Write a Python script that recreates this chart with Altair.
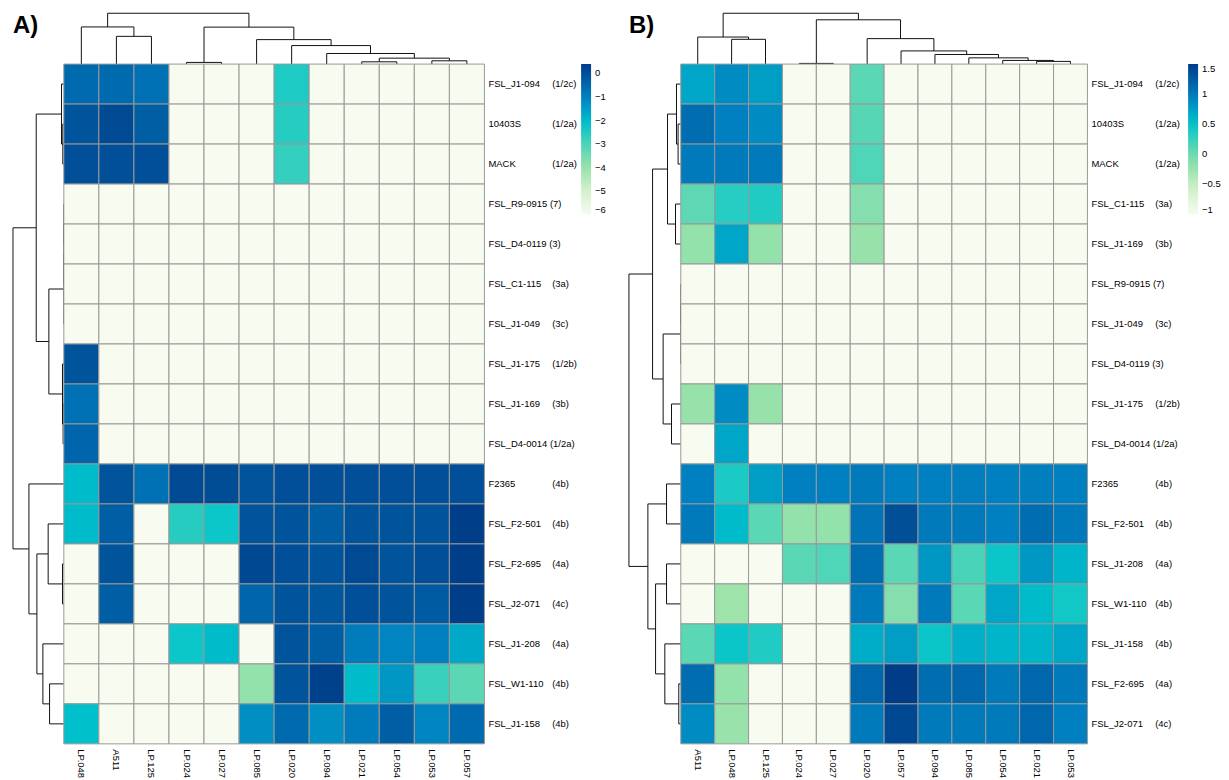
import altair as alt
import pandas as pd

FONT = "Liberation Sans"
LINE = "#111111"
BORDER = "#999999"

# ---------------- Panel A data ----------------
a_rows = ["FSL_J1-094", "10403S", "MACK", "FSL_R9-0915", "FSL_D4-0119", "FSL_C1-115",
          "FSL_J1-049", "FSL_J1-175", "FSL_J1-169", "FSL_D4-0014", "F2365", "FSL_F2-501",
          "FSL_F2-695", "FSL_J2-071", "FSL_J1-208", "FSL_W1-110", "FSL_J1-158"]
a_sero = ["(1/2c)", "(1/2a)", "(1/2a)", "(7)", "(3)", "(3a)", "(3c)", "(1/2b)", "(3b)",
          "(1/2a)", "(4b)", "(4b)", "(4a)", "(4c)", "(4a)", "(4b)", "(4b)"]
a_cols = ["LP.048", "A511", "LP.125", "LP.024", "LP.027", "LP.085", "LP.020", "LP.094",
          "LP.021", "LP.054", "LP.053", "LP.057"]
a_vals = [
    [-0.56, -0.56, -0.7, -6, -6, -6, -2.5, -6, -6, -6, -6, -6],
    [-0.1, 0.1, -0.3, -6, -6, -6, -2.6, -6, -6, -6, -6, -6],
    [0.0, 0.0, 0.0, -6, -6, -6, -2.75, -6, -6, -6, -6, -6],
    [-6, -6, -6, -6, -6, -6, -6, -6, -6, -6, -6, -6],
    [-6, -6, -6, -6, -6, -6, -6, -6, -6, -6, -6, -6],
    [-6, -6, -6, -6, -6, -6, -6, -6, -6, -6, -6, -6],
    [-6, -6, -6, -6, -6, -6, -6, -6, -6, -6, -6, -6],
    [-0.1, -6, -6, -6, -6, -6, -6, -6, -6, -6, -6, -6],
    [-0.7, -6, -6, -6, -6, -6, -6, -6, -6, -6, -6, -6],
    [-0.45, -6, -6, -6, -6, -6, -6, -6, -6, -6, -6, -6],
    [-2.0, -0.1, -0.7, 0.1, 0.05, -0.1, 0.0, 0.0, 0.0, 0.0, 0.0, 0.0],
    [-2.0, -0.3, -6, -2.6, -2.3, -0.1, -0.1, -0.3, -0.1, -0.1, -0.1, 0.35],
    [-6, -0.1, -6, -6, -6, 0.15, 0.0, -0.1, 0.1, -0.1, 0.0, 0.35],
    [-6, -0.3, -6, -6, -6, -0.45, -0.1, -0.15, 0.0, -0.1, -0.25, 0.35],
    [-6, -6, -6, -2.3, -2.0, -6, -0.1, -0.3, -0.9, -1.1, -1.0, -1.7],
    [-6, -6, -6, -6, -6, -3.95, -0.1, 0.3, -2.0, -1.4, -2.8, -3.2],
    [-2.1, -6, -6, -6, -6, -1.25, -0.56, -1.25, -0.9, -0.3, -1.1, -0.56],
]
a_legend_values = [-6, -5, -4, -3, -2, -1, 0]
a_range = [-6, 0.4]

# column tree (left, right, merge height)
a_col_merges = [
    ("A511", "LP.125", 28.0),      # n0
    ("LP.048", "n0", 37.5),        # n1
    ("LP.024", "LP.027", 1.7),     # n2
    ("LP.021", "LP.054", 2.3),     # n3
    ("LP.053", "LP.057", 3.3),     # n4
    ("n3", "n4", 6.0),             # n5
    ("LP.094", "n5", 10.7),        # n6
    ("LP.020", "n6", 18.7),        # n7
    ("LP.085", "n7", 24.7),        # n8
    ("n2", "n8", 37.3),            # n9
    ("n1", "n9", 51.3),            # n10
]
a_row_merges = [
    ("10403S", "MACK", 1.0),              # n0
    ("FSL_J1-094", "n0", 2.3),            # n1
    ("FSL_R9-0915", "FSL_D4-0119", 0.0),  # n2
    ("n2", "FSL_C1-115", 0.0),            # n3
    ("n3", "FSL_J1-049", 0.0),            # n4
    ("FSL_J1-169", "FSL_D4-0014", 0.7),   # n5
    ("FSL_J1-175", "n5", 1.3),            # n6
    ("n4", "n6", 15.0),                   # n7
    ("n1", "n7", 27.7),                   # n8
    ("FSL_F2-695", "FSL_J2-071", 1.3),    # n9
    ("FSL_F2-501", "n9", 15.7),           # n10
    ("FSL_W1-110", "FSL_J1-158", 14.3),   # n11
    ("FSL_J1-208", "n11", 21.0),          # n12
    ("n10", "n12", 27.0),                 # n13
    ("F2365", "n13", 35.0),               # n14
    ("n8", "n14", 51.0),                  # n15
]

# ---------------- Panel B data ----------------
b_rows = ["FSL_J1-094", "10403S", "MACK", "FSL_C1-115", "FSL_J1-169", "FSL_R9-0915",
          "FSL_J1-049", "FSL_D4-0119", "FSL_J1-175", "FSL_D4-0014", "F2365", "FSL_F2-501",
          "FSL_J1-208", "FSL_W1-110", "FSL_J1-158", "FSL_F2-695", "FSL_J2-071"]
b_sero = ["(1/2c)", "(1/2a)", "(1/2a)", "(3a)", "(3b)", "(7)", "(3c)", "(3)", "(1/2b)",
          "(1/2a)", "(4b)", "(4b)", "(4a)", "(4b)", "(4b)", "(4a)", "(4c)"]
b_cols = ["A511", "LP.048", "LP.125", "LP.024", "LP.027", "LP.020", "LP.057", "LP.094",
          "LP.085", "LP.054", "LP.021", "LP.053"]
b_vals = [
    [0.7, 0.87, 0.75, -1, -1, 0.1, -1, -1, -1, -1, -1, -1],
    [1.1, 0.95, 0.88, -1, -1, 0.12, -1, -1, -1, -1, -1, -1],
    [1.0, 1.0, 1.0, -1, -1, 0.15, -1, -1, -1, -1, -1, -1],
    [0.08, 0.33, 0.36, -1, -1, -0.12, -1, -1, -1, -1, -1, -1],
    [-0.2, 0.7, -0.2, -1, -1, -0.22, -1, -1, -1, -1, -1, -1],
    [-1, -1, -1, -1, -1, -1, -1, -1, -1, -1, -1, -1],
    [-1, -1, -1, -1, -1, -1, -1, -1, -1, -1, -1, -1],
    [-1, -1, -1, -1, -1, -1, -1, -1, -1, -1, -1, -1],
    [-0.22, 0.87, -0.22, -1, -1, -1, -1, -1, -1, -1, -1, -1],
    [-1, 0.7, -1, -1, -1, -1, -1, -1, -1, -1, -1, -1],
    [0.95, 0.38, 0.75, 0.95, 0.95, 1.0, 0.95, 0.95, 0.97, 0.95, 0.97, 0.95],
    [1.0, 0.55, 0.1, -0.2, -0.2, 1.05, 1.35, 1.0, 1.0, 0.95, 1.1, 1.0],
    [-1, -1, -1, 0.1, 0.15, 1.1, 0.1, 0.8, 0.18, 0.45, 0.8, 0.6],
    [-1, -0.25, -1, -1, -1, 1.0, -0.12, 1.0, 0.1, 0.7, 0.55, 0.42],
    [0.1, 0.45, 0.36, -1, -1, 0.65, 0.75, 0.45, 0.63, 0.6, 0.6, 0.7],
    [1.1, -0.2, -1, -1, -1, 1.15, 1.5, 1.1, 1.15, 1.0, 1.15, 1.0],
    [0.87, -0.23, -1, -1, -1, 1.0, 1.4, 1.0, 1.0, 1.0, 1.15, 0.95],
]
b_legend_values = [-1, -0.5, 0, 0.5, 1, 1.5]
b_range = [-1, 1.5]

b_col_merges = [
    ("LP.048", "LP.125", 25.0),    # n0
    ("A511", "n0", 27.3),          # n1
    ("LP.024", "LP.027", 0.7),     # n2
    ("LP.021", "LP.053", 2.7),     # n3
    ("LP.054", "n3", 3.7),         # n4
    ("LP.085", "n4", 6.3),         # n5
    ("LP.094", "n5", 9.7),         # n6
    ("LP.057", "n6", 13.3),        # n7
    ("LP.020", "n7", 25.7),        # n8
    ("n2", "n8", 44.7),            # n9
    ("n1", "n9", 51.3),            # n10
]
b_row_merges = [
    ("10403S", "MACK", 2.7),              # n0
    ("FSL_J1-094", "n0", 4.3),            # n1
    ("FSL_C1-115", "FSL_J1-169", 5.3),    # n2
    ("n1", "n2", 13.3),                   # n3
    ("FSL_R9-0915", "FSL_J1-049", 0.0),   # n4
    ("n4", "FSL_D4-0119", 0.0),           # n5
    ("FSL_J1-175", "FSL_D4-0014", 9.3),   # n6
    ("n5", "n6", 17.7),                   # n7
    ("n3", "n7", 28.3),                   # n8
    ("F2365", "FSL_F2-501", 14.3),        # n9
    ("FSL_J1-208", "FSL_W1-110", 14.3),   # n10
    ("FSL_F2-695", "FSL_J2-071", 2.0),    # n11
    ("FSL_J1-158", "n11", 16.0),          # n12
    ("n10", "n12", 25.3),                 # n13
    ("n9", "n13", 33.0),                  # n14
    ("n8", "n14", 52.0),                  # n15
]

# colour ramp (relative positions along the legend)
ramp_t = [0.0, 0.15, 0.3, 0.45, 0.6, 0.78, 1.0]
ramp_c = ["#f7fbf0", "#d6f1cf", "#9de3aa", "#55d6b5", "#00c4cc", "#0080c0", "#003c88"]


def dendro_df(leaves, merges):
    pos = {n: i + 0.5 for i, n in enumerate(leaves)}
    hgt = {n: 0.0 for n in leaves}
    segs = []
    for k, (l, r, h) in enumerate(merges):
        segs.append(dict(p1=pos[l], p2=pos[l], h1=hgt[l], h2=h))
        segs.append(dict(p1=pos[r], p2=pos[r], h1=hgt[r], h2=h))
        segs.append(dict(p1=pos[l], p2=pos[r], h1=h, h2=h))
        node = "n%d" % k
        pos[node] = (pos[l] + pos[r]) / 2
        hgt[node] = h
    return pd.DataFrame(segs)


def top_dendro(leaves, merges, w, h):
    df = dendro_df(leaves, merges)
    hmax = max(m[2] for m in merges)
    return alt.Chart(df).mark_rule(color=LINE, strokeWidth=1).encode(
        x=alt.X("p1:Q", scale=alt.Scale(domain=[0, len(leaves)], nice=False, zero=False), axis=None),
        x2="p2:Q",
        y=alt.Y("h1:Q", scale=alt.Scale(domain=[0, hmax], nice=False), axis=None),
        y2="h2:Q",
    ).properties(width=w, height=h)


def left_dendro(leaves, merges, w, h):
    df = dendro_df(leaves, merges)
    hmax = max(m[2] for m in merges)
    return alt.Chart(df).mark_rule(color=LINE, strokeWidth=1).encode(
        x=alt.X("h1:Q", scale=alt.Scale(domain=[0, hmax], nice=False, reverse=True), axis=None),
        x2="h2:Q",
        y=alt.Y("p1:Q", scale=alt.Scale(domain=[0, len(leaves)], nice=False, zero=False, reverse=True), axis=None),
        y2="p2:Q",
    ).properties(width=w, height=h)


def heatmap(rows, sero, cols, vals, vrange, legend_values, w, h, legend_x):
    recs = []
    for i, r in enumerate(rows):
        for j, c in enumerate(cols):
            recs.append(dict(row=r, col=c, v=vals[i][j]))
    df = pd.DataFrame(recs)
    lo, hi = vrange
    stops = [lo + t * (hi - lo) for t in ramp_t]
    base = alt.Chart(df).mark_rect(stroke=BORDER, strokeWidth=1).encode(
        x=alt.X("col:N", sort=cols, title=None,
                axis=alt.Axis(orient="bottom", labelAngle=90, domain=False, ticks=False,
                              labelPadding=5, labelFontSize=9.5, labelFont=FONT,
                              labelColor="#000000")),
        y=alt.Y("row:N", sort=rows, axis=None),
        color=alt.Color("v:Q",
                        scale=alt.Scale(domain=stops, range=ramp_c, interpolate="rgb"),
                        legend=alt.Legend(orient="none", legendX=legend_x, legendY=0,
                                          direction="vertical", title=None,
                                          values=legend_values, format=".2~g",
                                          gradientLength=151, gradientThickness=10,
                                          gradientStrokeWidth=0, labelFontSize=9.5,
                                          labelFont=FONT, labelColor="#000000",
                                          labelOffset=4, padding=0)),
    )
    lab = pd.DataFrame(dict(
        row=rows,
        name=[n if len(n) < 11 else n + " " + s for n, s in zip(rows, sero)],
        sero=[s if len(n) < 11 else "" for n, s in zip(rows, sero)],
    ))
    names = alt.Chart(lab).mark_text(align="left", baseline="middle", fontSize=9.5,
                                     font=FONT, color="#000000").encode(
        y=alt.Y("row:N", sort=rows, axis=None), x=alt.value(w + 4), text="name:N")
    seros = alt.Chart(lab).mark_text(align="left", baseline="middle", fontSize=9.5,
                                     font=FONT, color="#000000").encode(
        y=alt.Y("row:N", sort=rows, axis=None), x=alt.value(w + 68), text="sero:N")
    return alt.layer(base, names, seros).properties(width=w, height=h)


def spacer(w, h, label=""):
    return alt.Chart(pd.DataFrame({"t": [label]})).mark_text(
        align="left", baseline="alphabetic", fontSize=24, fontWeight="bold",
        font=FONT, color="#000000").encode(
        text="t:N", x=alt.value(0), y=alt.value(20)).properties(width=w, height=h)


HA, HB = 682, 682
chart = alt.concat(
    spacer(51, 51, "A)"),
    top_dendro(a_cols, a_col_merges, 422, 51),
    spacer(145, 51),
    spacer(52, 51, "B)"),
    top_dendro(b_cols, b_col_merges, 408, 51),
    left_dendro(a_rows, a_row_merges, 51, HA),
    heatmap(a_rows, a_sero, a_cols, a_vals, a_range, a_legend_values, 422, HA, 519),
    spacer(145, HA),
    left_dendro(b_rows, b_row_merges, 52, HB),
    heatmap(b_rows, b_sero, b_cols, b_vals, b_range, b_legend_values, 408, HB, 509),
    columns=5, spacing=0, bounds="flush",
).resolve_scale(color="independent").properties(
    padding={"left": 4, "top": 3, "right": 0, "bottom": 4},
    background="white",
).configure_view(stroke=None)

chart.save("out.html", embed_options={"renderer": "svg", "actions": False})
